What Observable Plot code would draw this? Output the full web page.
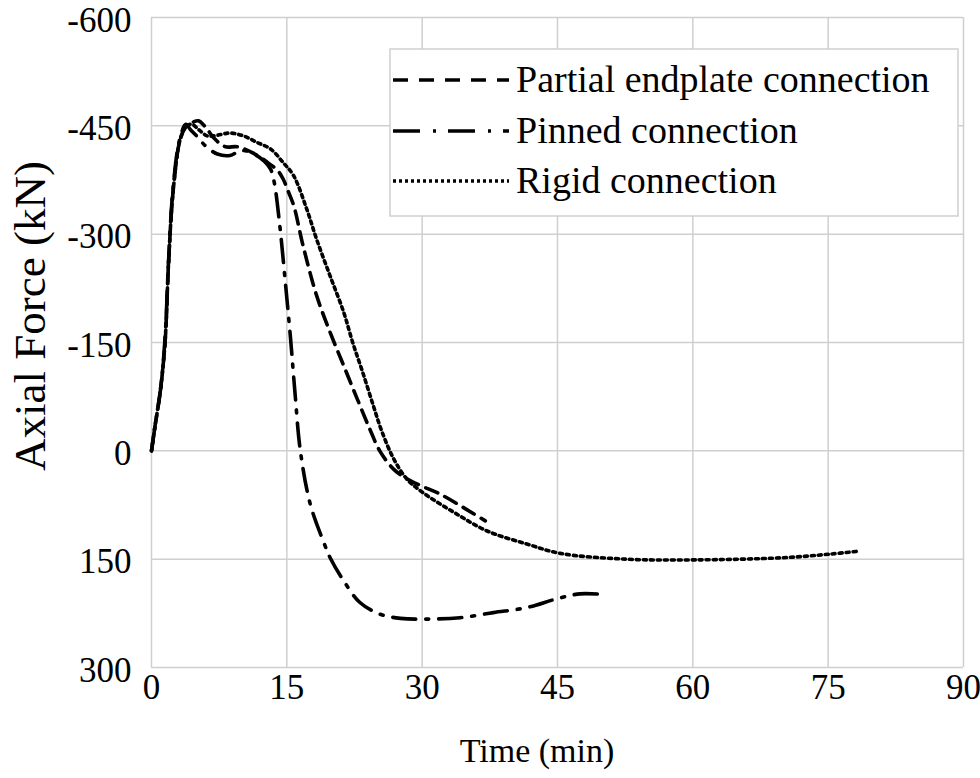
<!DOCTYPE html>
<html>
<head>
<meta charset="utf-8">
<script src="https://cdn.jsdelivr.net/npm/d3@7"></script>
<script src="https://cdn.jsdelivr.net/npm/@observablehq/plot@0.6"></script>
<style>
  html, body { margin: 0; padding: 0; background: #fff; }
  #chart { width: 980px; height: 778px; }
</style>
</head>
<body>
<div id="chart"></div>
<script>
// ---- data ----
const xTicks = [0, 15, 30, 45, 60, 75, 90];
const yTicks = [-600, -450, -300, -150, 0, 150, 300];
const seriesNames = ["Partial endplate connection", "Pinned connection", "Rigid connection"];
const xTitle = "Time (min)";
const yTitle = "Axial Force (kN)";

const partialTime  = [0,0.4,1.0,1.5,1.9,2.4,3.2,3.9,4.6,5.2,6.0,7.0,8.2,9.5,11.0,12.1,13.0,14.0,14.6,15.2,15.8,16.8,18.3,19.8,21.3,22.8,24.2,25.3,26.8,28.2,29.8,32.0,34.9,37.0];
const partialForce = [0,-35,-85,-150,-262,-360,-432,-450,-455,-457,-448,-432,-421,-421,-414,-406,-398,-388,-376,-358,-338,-284,-215,-164,-118,-72,-30,0,25,38,48,60,81,97];

const pinnedTime  = [0,0.4,1.0,1.5,1.9,2.4,3.1,3.8,4.3,5.0,6.0,7.3,8.7,10.0,11.5,12.5,13.2,13.6,14.2,14.8,15.4,15.9,16.5,17.6,19.1,19.8,21.3,23.1,25.3,27.6,30.5,34.2,37.9,41.6,44.9,47.5,50.2];
const pinnedForce = [0,-35,-85,-155,-265,-365,-430,-452,-445,-436,-422,-411,-409,-416,-410,-401,-390,-372,-314,-238,-157,-81,0,74,127,148,180,210,226,232,233,231,224,217,205,198,199];

const rigidTime  = [0,0.4,1.0,1.5,1.9,2.4,3.2,3.9,4.5,5.3,6.2,7.3,8.7,10.2,11.7,13.2,14.6,15.75,17.2,18.3,19.8,21.3,22.3,23.4,24.6,25.5,26.8,28.3,30.1,33.5,37.2,41.6,45.3,52.6,60.2,70.0,75.2,78.3];
const rigidForce = [0,-35,-85,-150,-262,-360,-432,-450,-452,-444,-436,-437,-440,-436,-427,-418,-399,-381,-335,-293,-242,-192,-150,-109,-62,-28,10,39,58,85,111,129,142,150,151,148,143,139];

// ---- build tables ----
const toRows = (ts, fs) => ts.map((t, i) => ({t, f: fs[i]}));
const partial = toRows(partialTime, partialForce);
const pinned = toRows(pinnedTime, pinnedForce);
const rigid = toRows(rigidTime, rigidForce);

const styles = [
  {dash: "13,8", legendDash: "15,11", width: 3.6},
  {dash: "23,10,3,10", legendDash: "27,13,3,12", width: 3.6},
  {dash: "3,4", legendDash: "3,3", width: 3.6}
];

const FONT = "'Liberation Serif', 'Times New Roman', Times, serif";
const gridColor = "#cfcfcf";

const plot = Plot.plot({
  width: 980,
  height: 778,
  marginLeft: 151,
  marginRight: 17,
  marginTop: 17,
  marginBottom: 111,
  style: {fontFamily: FONT, fontSize: "34px", color: "#000", background: "#fff", overflow: "visible"},
  x: {domain: [0, 90]},
  y: {domain: [-600, 300], reverse: true},
  marks: [
    Plot.gridX(xTicks, {stroke: gridColor, strokeOpacity: 1, strokeWidth: 1.5}),
    Plot.gridY(yTicks, {stroke: gridColor, strokeOpacity: 1, strokeWidth: 1.5}),
    Plot.axisX(xTicks, {tickSize: 0, tickPadding: 7, tickFormat: d => String(d), label: null, fontSize: 35}),
    Plot.axisY(yTicks, {tickSize: 0, tickPadding: 20, dy: 3, tickFormat: d => String(d), label: null, fontSize: 35}),
    Plot.line(partial, {x: "t", y: "f", stroke: "#000", strokeWidth: styles[0].width, strokeDasharray: styles[0].dash, curve: "catmull-rom"}),
    Plot.line(pinned, {x: "t", y: "f", stroke: "#000", strokeWidth: styles[1].width, strokeDasharray: styles[1].dash, curve: "catmull-rom"}),
    Plot.line(rigid, {x: "t", y: "f", stroke: "#000", strokeWidth: styles[2].width, strokeDasharray: styles[2].dash, curve: "catmull-rom"})
  ]
});

const svg = d3.select(plot);

// ---- axis titles ----
svg.append("text")
  .attr("x", 537).attr("y", 762)
  .attr("text-anchor", "middle")
  .attr("font-family", FONT).attr("font-size", 34).attr("fill", "#000")
  .text(xTitle);
svg.append("text")
  .attr("transform", "translate(45,316) rotate(-90)")
  .attr("text-anchor", "middle")
  .attr("font-family", FONT).attr("font-size", 45).attr("fill", "#000")
  .text(yTitle);

// ---- legend box (inside plot area, top right) ----
const lg = svg.append("g").attr("class", "legend");
lg.append("rect")
  .attr("x", 390).attr("y", 49).attr("width", 568).attr("height", 167)
  .attr("fill", "#fff").attr("stroke", gridColor).attr("stroke-width", 1.5);
const rowY = [80, 131, 181];
seriesNames.forEach((name, i) => {
  lg.append("line")
    .attr("x1", 393).attr("x2", 509)
    .attr("y1", rowY[i]).attr("y2", rowY[i])
    .attr("stroke", "#000")
    .attr("stroke-width", styles[i].width)
    .attr("stroke-dasharray", styles[i].legendDash);
  lg.append("text")
    .attr("x", 516).attr("y", rowY[i] + 12)
    .attr("text-anchor", "start")
    .attr("font-family", FONT).attr("font-size", 38).attr("fill", "#000")
    .text(name);
});

document.getElementById("chart").appendChild(plot);
</script>
</body>
</html>
